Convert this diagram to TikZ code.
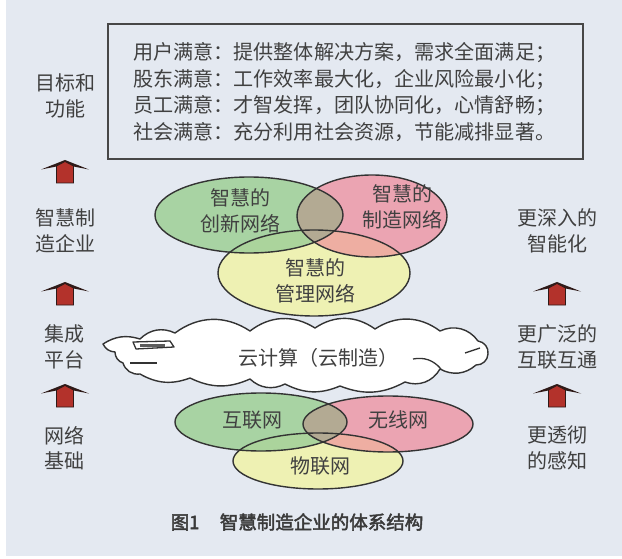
\documentclass[tikz,border=0pt]{standalone}
\usepackage{fontspec}
\newfontfamily\cjk{Noto Sans CJK SC}
\newfontfamily\cjkb{Noto Sans CJK SC}[FakeBold=2.5]
\definecolor{bgc}{HTML}{E4E9F1}
\definecolor{txtc}{HTML}{404040}
\definecolor{linec}{HTML}{333333}
\definecolor{gfill}{HTML}{A8D3A3}
\definecolor{pfill}{HTML}{EBA4B2}
\definecolor{yfill}{HTML}{EEF1B3}
\definecolor{gpfill}{HTML}{B3AA93}
\definecolor{gyfill}{HTML}{ABD49C}
\definecolor{pyfill}{HTML}{EEAEA2}
\definecolor{arrred}{HTML}{B3322B}
\definecolor{arrdark}{HTML}{2E1A18}
\tikzset{
  lbl/.style={font=\cjk\fontsize{20}{25.5}\selectfont, text=txtc, align=center, inner sep=0pt},
  boxtxt/.style={font=\cjk\fontsize{20.1}{24}\selectfont, text=txtc, anchor=west, inner sep=0pt},
  outline/.style={draw=linec, line width=1.4pt},
  uparr/.pic={
    \fill[arrdark] (-24,-9.5) -- (0,0) -- (24,-9.5) -- (8.5,-6.5) -- (-8.5,-6.5) -- cycle;
    \filldraw[fill=arrred, draw=arrdark, line width=0.8pt]
      (-8.5,-23) -- (-8.5,-6) -- (0,-1.5) -- (8.5,-6) -- (8.5,-23) -- cycle;
  }
}
\begin{document}
\begin{tikzpicture}[x=1pt,y=1pt]
\useasboundingbox (0,0) rectangle (622,-559);
\fill[white] (0,0) rectangle (622,-559);
\fill[bgc] (6,0) rectangle (622,-556);

% top box
\draw[draw=linec!90, line width=1.8pt] (108,-24) rectangle (583,-159);
\node[boxtxt] (t1) at (133,-53) {用户满意：提供整体解决方案，需求全面满足；};
\node[boxtxt] (t2) at (133,-80) {股东满意：工作效率最大化，企业风险最小化；};
\node[boxtxt] (t3) at (133,-106) {员工满意：才智发挥，团队协同化，心情舒畅；};
\node[boxtxt] (t4) at (133,-132) {社会满意：充分利用社会资源，节能减排显著。};

% upper Venn
\fill[yfill] (314,-273) ellipse [x radius=96, y radius=43];
\fill[gfill] (249,-215) ellipse [x radius=94, y radius=38];
\fill[pfill] (372,-216) ellipse [x radius=75, y radius=41];
\begin{scope}
  \clip (249,-215) ellipse [x radius=94, y radius=38];
  \fill[gyfill] (314,-273) ellipse [x radius=96, y radius=43];
\end{scope}
\begin{scope}
  \clip (372,-216) ellipse [x radius=75, y radius=41];
  \fill[pyfill] (314,-273) ellipse [x radius=96, y radius=43];
\end{scope}
\begin{scope}
  \clip (249,-215) ellipse [x radius=94, y radius=38];
  \fill[gpfill] (372,-216) ellipse [x radius=75, y radius=41];
\end{scope}
\draw[outline] (314,-273) ellipse [x radius=96, y radius=43];
\draw[outline] (249,-215) ellipse [x radius=94, y radius=38];
\draw[outline] (372,-216) ellipse [x radius=75, y radius=41];
\node[lbl] (inno) at (240,-211) {智慧的\\创新网络};
\node[lbl] (manu) at (402,-207) {智慧的\\制造网络};
\node[lbl] (mgmt) at (315,-281) {智慧的\\管理网络};

% cloud
\coordinate (c0) at (103,-344);
\path[fill=white, draw=linec, line width=1.4pt, line join=round]
  (c0) to[bend left=25] (140,-339) to[bend left=35] (175,-333)
  to[bend left=35] (250,-331) to[bend left=35] (315,-328)
  to[bend left=35] (375,-329) to[bend left=35] (440,-331)
  to[bend left=40] (478,-341) to[bend left=45] (488,-354)
  to[bend left=45] (476,-365) to[bend left=35] (440,-369)
  to[bend left=40] (405,-382) to[bend left=25] (340,-386)
  to[bend left=25] (285,-384) to[bend left=35] (250,-379)
  to[bend left=25] (190,-378) to[bend left=25] (140,-374)
  to[bend left=40] (123,-363) to[bend left=35] (115,-352)
  to[bend left=30] (c0) -- cycle;
\draw[linec, line width=1.3pt, line join=round]
  (133,-342) -- (170,-341) -- (174,-347) -- (136,-349) -- cycle;
\fill[linec!80] (140,-344) rectangle (165,-347);
\draw[linec, line width=1.3pt] (130,-363) -- (157,-363);
\draw[linec, line width=1.3pt] (413,-359) to[bend left=30] (441,-369);
\draw[linec, line width=1.3pt] (465,-353) -- (480,-348);
\node[lbl] (cloudtxt) at (318,-358) {云计算（云制造）};

% lower Venn
\fill[yfill] (318,-461) ellipse [x radius=85, y radius=28];
\fill[gfill] (261,-422) ellipse [x radius=86, y radius=29];
\fill[pfill] (388,-424) ellipse [x radius=85, y radius=28];
\begin{scope}
  \clip (261,-422) ellipse [x radius=86, y radius=29];
  \fill[gyfill] (318,-461) ellipse [x radius=85, y radius=28];
\end{scope}
\begin{scope}
  \clip (388,-424) ellipse [x radius=85, y radius=28];
  \fill[pyfill] (318,-461) ellipse [x radius=85, y radius=28];
\end{scope}
\begin{scope}
  \clip (261,-422) ellipse [x radius=86, y radius=29];
  \fill[gpfill] (388,-424) ellipse [x radius=85, y radius=28];
\end{scope}
\draw[outline] (318,-461) ellipse [x radius=85, y radius=28];
\draw[outline] (261,-422) ellipse [x radius=86, y radius=29];
\draw[outline] (388,-424) ellipse [x radius=85, y radius=28];
\node[lbl] (inet) at (252,-420) {互联网};
\node[lbl] (wless) at (398,-420) {无线网};
\node[lbl] (iot) at (320,-466) {物联网};

% left column
\node[lbl] (goal) at (65,-96) {目标和\\功能};
\node[lbl] (ent) at (65,-231) {智慧制\\造企业};
\node[lbl] (plat) at (65,-347) {集成\\平台};
\node[lbl] (netb) at (65,-448) {网络\\基础};
\pic at (65,-160) {uparr};
\pic at (65,-282) {uparr};
\pic at (65,-384) {uparr};

% right column
\node[lbl] (deep) at (557,-231) {更深入的\\智能化};
\node[lbl] (wide) at (557,-347) {更广泛的\\互联互通};
\node[lbl] (sense) at (557,-448) {更透彻\\的感知};
\pic at (557,-282) {uparr};
\pic at (557,-384) {uparr};

% caption
\node[font=\cjkb\fontsize{18.5}{20}\selectfont, text=txtc!90!black, inner sep=0pt] (cap)
  at (297,-522) {图1\hspace{1.1em}智慧制造企业的体系结构};
\end{tikzpicture}
\end{document}
